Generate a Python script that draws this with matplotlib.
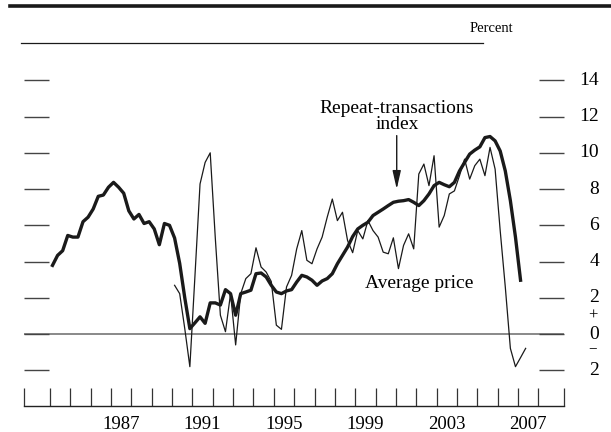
import matplotlib.pyplot as plt
import numpy as np
from matplotlib.lines import Line2D
from matplotlib.transforms import blended_transform_factory

plt.rcParams["font.family"] = ["Liberation Serif", "DejaVu Serif"]

# Quarterly series, percent change
repeat_start = 1984  # first value is 1984:Q1
repeat_index = [
    3.79, 4.34, 4.6, 5.44, 5.35, 5.35, 6.2, 6.45, 6.9, 7.6, 7.67, 8.1,
    8.37, 8.1, 7.77, 6.8, 6.35, 6.6, 6.1, 6.2, 5.8, 4.93, 6.1, 6.0,
    5.3, 3.9, 2.0, 0.3, 0.62, 0.95, 0.59, 1.72, 1.72, 1.6, 2.45, 2.23,
    1.04, 2.23, 2.32, 2.42, 3.33, 3.37, 3.15, 2.69, 2.32, 2.23, 2.38, 2.45,
    2.87, 3.24, 3.15, 2.97, 2.69, 2.93, 3.06, 3.33, 3.88, 4.34, 4.8, 5.38,
    5.8, 6.0, 6.17, 6.54, 6.72, 6.9, 7.09, 7.27, 7.33, 7.36, 7.42, 7.27,
    7.09, 7.36, 7.73, 8.19, 8.37, 8.24, 8.13, 8.37, 9.0, 9.47, 9.93, 10.15,
    10.33, 10.84, 10.9, 10.66, 10.1, 9.0, 7.36, 5.35, 2.97,
]

avg_start = 1990  # first value is 1990:Q1
avg_price = [
    2.69, 2.23, 0.3, -1.8, 3.2, 8.28, 9.47, 10.0, 5.3, 1.04, 0.13, 2.23,
    -0.6, 2.23, 3.06, 3.33, 4.76, 3.7, 3.42, 2.9, 0.49, 0.26, 2.6, 3.24,
    4.7, 5.71, 4.07, 3.88, 4.7, 5.35, 6.45, 7.45, 6.26, 6.72, 5.16, 4.49,
    5.71, 5.25, 6.26, 5.71, 5.35, 4.52, 4.43, 5.31, 3.61, 4.89, 5.53, 4.7,
    8.83, 9.38, 8.19, 9.84, 5.9, 6.54, 7.73, 7.9, 8.74, 9.65, 8.55, 9.29,
    9.65, 8.74, 10.3, 9.1, 5.7, 2.6, -0.79, -1.8, -1.3, -0.79,
]

year_labels = [1987, 1991, 1995, 1999, 2003, 2007]
y_ticks = [-2, 0, 2, 4, 6, 8, 10, 12, 14]
y_tick_labels = ["2", "0", "2", "4", "6", "8", "10", "12", "14"]


def quarter_x(start, n):
    # plot each quarter at its midpoint
    return start + 0.125 + 0.25 * np.arange(n)


fig = plt.figure(figsize=(6.11, 4.32), dpi=100)
ax = fig.add_axes([24 / 611, 26 / 432, 540 / 611, 363 / 432])

x_lo, x_hi = 1982.725, 2009.26
ax.set_xlim(x_lo, x_hi)
ax.set_ylim(-3.97, 16.06)

# zero line
ax.axhline(0, color="#808080", lw=1.3, zorder=1)

ax.plot(quarter_x(avg_start, len(avg_price)), avg_price,
        color="#1a1a1a", lw=0.9, zorder=3)
ax.plot(quarter_x(repeat_start, len(repeat_index)), repeat_index,
        color="#1a1a1a", lw=2.4, solid_joinstyle="round", zorder=4)

# spines
for side in ["top", "left", "right"]:
    ax.spines[side].set_visible(False)
ax.spines["bottom"].set_linewidth(1.0)
ax.spines["bottom"].set_color("#222222")

# x ticks: year boundaries, labels centred in the year
ax.set_xticks([x_lo] + list(range(1984, 2009)) + [x_hi])
ax.tick_params(axis="x", which="major", direction="in", length=13,
               width=0.9, color="#333333", labelbottom=False)
ax.set_xticks([y + 0.5 for y in year_labels], minor=True)
ax.set_xticklabels([str(y) for y in year_labels], minor=True)
ax.tick_params(axis="x", which="minor", length=0, pad=7, labelsize=13.5)

# y ticks on both sides, labels drawn by hand on the right
ax.set_yticks(y_ticks)
ax.tick_params(axis="y", direction="in", length=18, width=1.0,
               color="#444444", left=True, right=True,
               labelleft=False, labelright=False)
trans = blended_transform_factory(ax.transAxes, ax.transData)
for v, lab in zip(y_ticks, y_tick_labels):
    ax.text(1.0648, v, lab, transform=trans, ha="right", va="center",
            fontsize=14)
ax.text(1.0537, 1.02, "+", transform=trans, ha="center", va="center",
        fontsize=12)
ax.text(1.0537, -0.82, "\u2212", transform=trans, ha="center", va="center",
        fontsize=11)

# annotations
ax.text(2001.05, 12.0, "Repeat-transactions\nindex", ha="center",
        va="center", fontsize=14, linespacing=0.95)
ax.annotate("", xy=(2001.04, 8.0), xytext=(2001.04, 10.95),
            arrowprops=dict(arrowstyle="-|>,head_length=1.1,head_width=0.25",
                            color="#1a1a1a", lw=1.0, shrinkA=0, shrinkB=0))
ax.text(2002.13, 2.8, "Average price", ha="center", va="center", fontsize=14)

# header rules and unit label
fig.add_artist(Line2D([10 / 611, 1.0], [1 - 5.5 / 432] * 2,
                      color="#1a1a1a", lw=2.6))
fig.add_artist(Line2D([21 / 611, 483 / 611], [1 - 43 / 432] * 2,
                      color="#1a1a1a", lw=0.9))
fig.text(513 / 611, 1 - 28 / 432, "Percent", ha="right", va="center",
         fontsize=10.5)

fig.savefig("out.png", dpi=100)
